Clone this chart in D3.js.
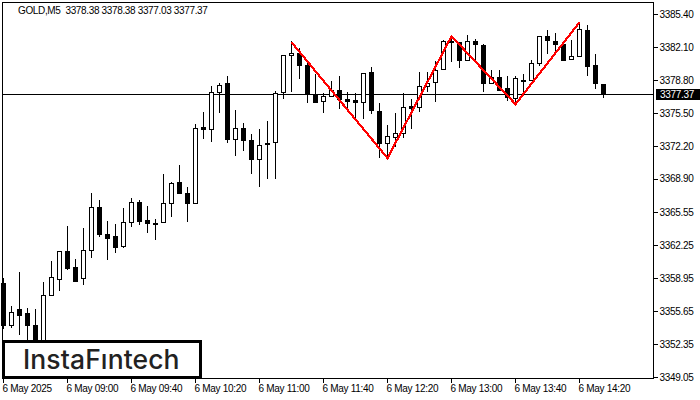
<!DOCTYPE html>
<html>
<head>
<meta charset="utf-8">
<script src="https://cdn.jsdelivr.net/npm/d3@7"></script>
<style>
  html, body { margin: 0; padding: 0; background: #fff; }
  svg { display: block; }
  text { font-family: "Liberation Sans", sans-serif; font-size: 10px; letter-spacing: -0.3px; fill: #000; }
</style>
</head>
<body>
<div id="chart"></div>
<script>
// Candles, oldest first, one per 5 minutes
const opens = [3358.37,3354.20,3355.77,3355.37,3354.17,3352.17,3357.17,3358.80,3361.64,3359.97,
  3358.90,3361.70,3366.04,3363.27,3363.07,3362.14,3364.54,3366.54,3364.77,3364.47,
  3364.54,3366.44,3368.54,3367.44,3366.44,3374.04,3373.84,3377.50,3378.44,3372.84,
  3373.94,3372.77,3370.80,3372.44,3372.54,3377.54,3381.24,3381.44,3380.27,3377.34,
  3376.64,3377.14,3377.74,3376.84,3376.74,3376.54,3379.54,3375.67,3372.44,3373.04,
  3373.44,3376.14,3376.04,3378.14,3378.50,3379.80,3382.67,3382.54,3380.77,3382.64,
  3382.24,3378.44,3379.04,3377.94,3376.94,3378.77,3378.70,3380.40,3383.14,3382.64,
  3382.34,3380.80,3381.10,3383.74,3380.24,3378.38];
const highs = [3358.97,3356.17,3359.57,3355.97,3355.87,3358.57,3360.67,3361.67,3364.17,3360.87,
  3363.97,3367.44,3366.77,3364.67,3364.37,3365.97,3366.97,3366.74,3366.17,3364.84,
  3369.37,3368.57,3370.27,3368.07,3374.37,3375.57,3378.17,3378.50,3379.17,3375.77,
  3374.44,3373.37,3373.87,3374.67,3377.67,3381.34,3382.67,3382.04,3380.77,3379.44,
  3377.44,3378.74,3379.24,3377.54,3377.47,3379.54,3380.14,3376.44,3374.24,3375.47,
  3377.44,3376.87,3379.57,3379.57,3380.67,3382.77,3383.24,3382.54,3383.27,3382.94,
  3382.37,3379.84,3379.84,3379.24,3379.24,3379.44,3380.84,3383.24,3383.77,3383.47,
  3382.44,3382.77,3384.60,3384.27,3381.37,3378.38];
const lows = [3353.87,3354.00,3353.27,3352.57,3351.57,3351.97,3357.17,3357.70,3359.80,3358.60,
  3358.30,3360.97,3363.10,3360.77,3361.50,3362.00,3364.10,3364.30,3363.50,3362.77,
  3364.54,3365.10,3367.44,3364.57,3366.34,3372.87,3372.60,3375.50,3372.50,3371.20,
  3371.70,3369.37,3368.10,3368.90,3368.90,3376.87,3377.54,3378.87,3376.50,3376.50,
  3375.50,3377.14,3375.84,3375.54,3374.84,3374.84,3375.34,3371.00,3371.00,3372.10,
  3373.00,3373.90,3375.60,3377.60,3376.60,3379.80,3380.60,3380.00,3380.67,3380.70,
  3377.60,3378.44,3377.67,3376.70,3376.34,3377.60,3378.70,3380.20,3381.37,3381.37,
  3380.70,3380.80,3381.10,3379.17,3377.87,3377.03];
const closes = [3354.20,3355.50,3355.17,3354.17,3351.77,3357.24,3358.97,3361.64,3359.90,3358.60,
  3361.74,3366.04,3363.30,3362.90,3362.00,3364.54,3366.54,3364.64,3364.40,3364.30,
  3366.44,3368.44,3367.44,3366.40,3373.94,3373.80,3377.54,3378.24,3372.84,3373.94,
  3372.70,3370.80,3372.24,3372.30,3377.44,3381.24,3381.44,3380.20,3377.37,3376.50,
  3377.14,3377.74,3376.84,3376.64,3376.54,3379.44,3375.72,3372.40,3373.14,3373.42,
  3376.04,3375.97,3378.14,3378.44,3379.74,3382.64,3382.50,3380.77,3382.64,3382.30,
  3378.40,3379.00,3377.77,3377.00,3378.94,3378.70,3380.44,3383.14,3382.77,3382.30,
  3380.77,3381.14,3383.84,3380.10,3378.40,3377.37];

// Red double top zigzag: candle index and price
const patternIdx = [36, 48, 56, 64, 72];
const patternPrice = [3382.57, 3370.97, 3383.17, 3376.37, 3384.57];

const yTickValues = [3385.40,3382.10,3378.80,3375.50,3372.20,3368.90,3365.55,3362.25,3358.95,3355.65,3352.35,3349.05];
const xTickIdx = [0, 8, 16, 24, 32, 40, 48, 56, 64, 72];
const xTickLabels = ['6 May 2025','6 May 09:00','6 May 09:40','6 May 10:20','6 May 11:00','6 May 11:40','6 May 12:20','6 May 13:00','6 May 13:40','6 May 14:20'];
const lastPrice = 3377.37;
const titleText = 'GOLD,M5  3378.38 3378.38 3377.03 3377.37';
const logoText = 'InstaF\u0131ntech';

const width = 700;
const height = 400;
const frame = { left: 3, top: 3, right: 654, bottom: 379 };

const x = d3.scaleLinear().domain([0, 75]).range([3, 603]);
const y = d3.scaleLinear().domain([3349.05, 3385.40]).range([377, 14]);

const svg = d3.select('#chart').append('svg')
  .attr('width', width)
  .attr('height', height)
  .attr('viewBox', `0 0 ${width} ${height}`);

// Last price line sits behind the candles
svg.append('line')
  .attr('x1', frame.left).attr('x2', frame.right)
  .attr('y1', Math.round(y(lastPrice)) + 0.5).attr('y2', Math.round(y(lastPrice)) + 0.5)
  .attr('stroke', '#000');

const candles = svg.append('g').attr('shape-rendering', 'crispEdges')
  .selectAll('g').data(opens).join('g')
  .attr('transform', (d, i) => `translate(${x(i)},0)`);

candles.append('line')
  .attr('x1', 0.5).attr('x2', 0.5)
  .attr('y1', (d, i) => y(highs[i]))
  .attr('y2', (d, i) => y(lows[i]))
  .attr('stroke', '#000');

candles.append('rect')
  .attr('x', -1.5)
  .attr('width', 4)
  .attr('y', (d, i) => y(Math.max(opens[i], closes[i])))
  .attr('height', (d, i) => Math.max(1, Math.abs(y(opens[i]) - y(closes[i]))))
  .attr('fill', (d, i) => closes[i] < opens[i] ? '#000' : '#fff')
  .attr('stroke', '#000');

// Pattern on top of everything
svg.append('path')
  .datum(patternIdx.map((d, i) => [d, patternPrice[i]]))
  .attr('fill', 'none')
  .attr('stroke', '#ff0000')
  .attr('stroke-width', 2.2)
  .attr('shape-rendering', 'crispEdges')
  .attr('d', d3.line().x(d => x(d[0]) + 0.5).y(d => y(d[1])));

// Frame
svg.append('rect')
  .attr('x', frame.left - 0.5).attr('y', frame.top - 0.5)
  .attr('width', frame.right - frame.left).attr('height', frame.bottom - frame.top)
  .attr('fill', 'none').attr('stroke', '#000').attr('shape-rendering', 'crispEdges');

// Price axis
const yAxis = d3.axisRight(y).tickValues(yTickValues).tickSize(4).tickFormat(d3.format('.2f'));
const yG = svg.append('g').attr('transform', `translate(${frame.right - 0.5},0)`).call(yAxis);
yG.select('.domain').remove();
yG.selectAll('line').attr('shape-rendering', 'crispEdges');
yG.selectAll('text').attr('x', 6);
yG.attr('font-family', null).attr('font-size', null);

// Time axis
const xAxis = d3.axisBottom(x).tickValues(xTickIdx).tickSize(4).tickFormat((d, i) => xTickLabels[i]);
const xG = svg.append('g').attr('transform', `translate(0,${frame.bottom - 0.5})`).call(xAxis);
xG.select('.domain').remove();
xG.selectAll('line').attr('shape-rendering', 'crispEdges');
xG.selectAll('text').attr('text-anchor', 'start').attr('x', -1).attr('y', 6);
xG.attr('font-family', null).attr('font-size', null);

// Last price tag
svg.append('rect')
  .attr('x', 656).attr('y', 89).attr('width', 44).attr('height', 11)
  .attr('fill', '#000');
svg.append('text')
  .attr('x', 660).attr('y', y(lastPrice) + 3.5)
  .style('fill', '#fff')
  .text(d3.format('.2f')(lastPrice));

// Title
svg.append('text')
  .attr('x', 18).attr('y', 14)
  .style('white-space', 'pre')
  .style('letter-spacing', '-0.35px')
  .text(titleText);

// Logo box
svg.append('rect')
  .attr('x', 3.5).attr('y', 341.5).attr('width', 197).attr('height', 36)
  .attr('fill', '#fff').attr('stroke', '#000').attr('stroke-width', 3);
svg.append('text')
  .attr('x', 23).attr('y', 369)
  .style('font-family', 'Inter, sans-serif')
  .style('font-size', '26.5px')
  .style('font-weight', 500)
  .style('letter-spacing', '0.1px')
  .style('fill', '#222')
  .text(logoText);
</script>
</body>
</html>
